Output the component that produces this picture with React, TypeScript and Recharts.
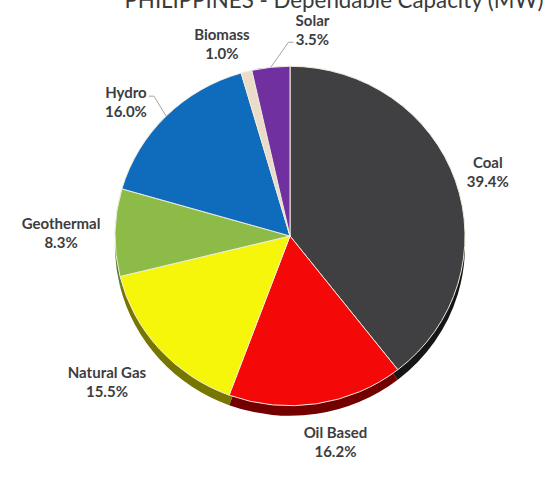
import { PieChart, Pie, Sector } from "recharts";

const categories = ["Coal", "Oil Based", "Natural Gas", "Geothermal", "Hydro", "Biomass", "Solar"];
const shares = [39.4, 16.2, 15.5, 8.3, 16.0, 1.0, 3.5];
const faceColors = ["#404042", "#f40808", "#f6f60a", "#8dbb48", "#0f6bbb", "#eadcc8", "#7030a0"];
const edgeColors = ["#161616", "#720000", "#767600", "#5a7a2c", "#0a3f70", "#8a8070", "#40205c"];

const WIDTH = 547;
const HEIGHT = 484;
const CX = 290;
const CY = 236;
const RADIUS = 175;
const SQUASH = 0.97; // the disc is slightly flattened
const DEPTH = 10;
const RAD = Math.PI / 180;

// where each label sits relative to a ring just outside the pie
const labelNudge: Record<string, [number, number]> = {
  Coal: [4, 2],
  "Oil Based": [14, 2],
  "Natural Gas": [-30, 9],
  Geothermal: [-24, 0],
  Hydro: [-19, 10],
  Biomass: [-17, 6],
  Solar: [45, -3],
};

// leader end, relative to the label centre
const leaderEnd: Record<string, [number, number]> = {
  Hydro: [23, -5],
  Solar: [-19, 13],
};

const faces = categories.map((name, i) => ({ name, value: shares[i], fill: faceColors[i] }));
const edges = categories.map((name, i) => ({ name, value: shares[i], fill: edgeColors[i] }));

function FlatSector(props: any) {
  const cy = props.cy;
  return (
    <g transform={`translate(0 ${cy}) scale(1 ${SQUASH}) translate(0 ${-cy})`}>
      <Sector {...props} />
    </g>
  );
}

function SliceLabel(props: any) {
  const { midAngle, name, value } = props;
  // midAngle runs counter-clockwise from 3 o'clock
  const up = Math.sin(midAngle * RAD);
  const right = Math.cos(midAngle * RAD);
  const [nx, ny] = labelNudge[name];
  const x = CX + (RADIUS + 30) * right + nx;
  const y = CY - (RADIUS + 30) * up + ny;
  const end = leaderEnd[name];
  let leader = null;
  if (end) {
    const ex = CX + RADIUS * right;
    const ey = CY - RADIUS * SQUASH * up;
    const lx = x + end[0];
    const ly = y + end[1];
    const elbow = lx + (end[0] > 0 ? 5 : -5);
    leader = <polyline points={`${ex},${ey} ${elbow},${ly} ${lx},${ly}`} fill="none" stroke="#a9a39c" strokeWidth={1} />;
  }
  return (
    <g>
      {leader}
      <text x={x} textAnchor="middle" fontFamily="Lato" fontWeight={700} fontSize={15} fill="#3d3d40">
        <tspan x={x} y={y - 3}>{name}</tspan>
        <tspan x={x} y={y + 16}>{value.toFixed(1)}%</tspan>
      </text>
    </g>
  );
}

export default function App() {
  return (
    <div style={{ position: "absolute", left: 0, top: 0, width: WIDTH, height: HEIGHT, background: "#fff", overflow: "hidden" }}>
      <PieChart width={WIDTH} height={HEIGHT} margin={{ top: 0, right: 0, bottom: 0, left: 0 }}>
        <text x={334} y={8} textAnchor="middle" fontFamily="Lato" fontSize={22.3} fill="#3a3a3a">
          PHILIPPINES - Dependable Capacity (MW)
        </text>
        <Pie
          data={edges}
          dataKey="value"
          nameKey="name"
          cx={CX}
          cy={CY + DEPTH}
          outerRadius={RADIUS}
          startAngle={90}
          endAngle={-270}
          stroke="none"
          shape={FlatSector}
          isAnimationActive={false}
        />
        <Pie
          data={faces}
          dataKey="value"
          nameKey="name"
          cx={CX}
          cy={CY}
          outerRadius={RADIUS}
          startAngle={90}
          endAngle={-270}
          stroke="#f3ece0"
          strokeWidth={1}
          shape={FlatSector}
          label={SliceLabel}
          labelLine={false}
          isAnimationActive={false}
        />
      </PieChart>
    </div>
  );
}
